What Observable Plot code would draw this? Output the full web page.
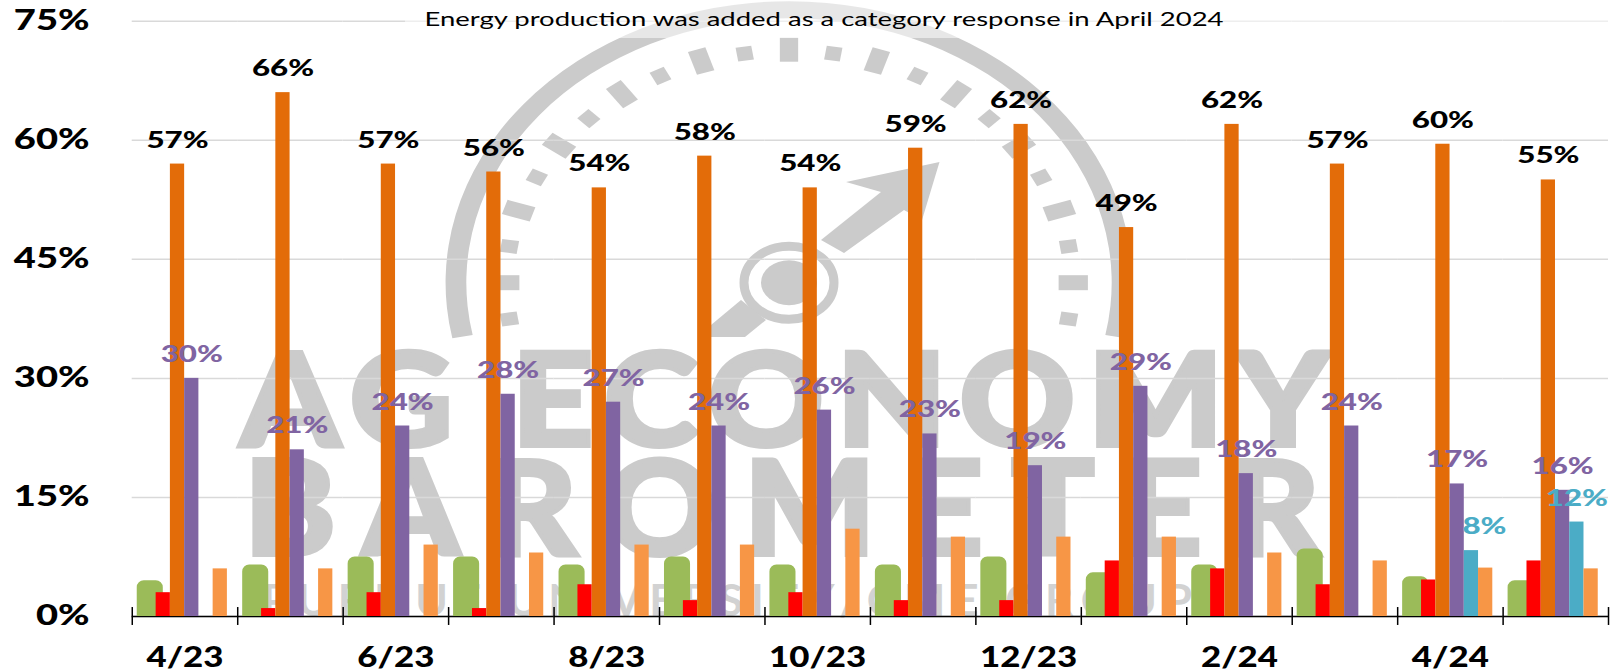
<!DOCTYPE html>
<html><head><meta charset="utf-8">
<script src="https://cdn.jsdelivr.net/npm/d3@7"></script>
<script src="https://cdn.jsdelivr.net/npm/@observablehq/plot@0.6"></script>
<style>html,body{margin:0;padding:0;background:#fff}svg{display:block}</style>
</head><body>
<script>
const months = ["4/23","5/23","6/23","7/23","8/23","9/23","10/23","11/23","12/23","1/24","2/24","3/24","4/24","5/24"];
const labeledMonths = ["4/23","6/23","8/23","10/23","12/23","2/24","4/24"];
const yTicks = [0,15,30,45,60,75];
const note = "Energy production was added as a category response in April 2024";
const greenValues  = [4.5,6.5,7.5,7.5,6.5,7.5,6.5,6.5,7.5,5.5,6.5,8.5,5,4.5];
const redValues    = [3,1,3,1,4,2,3,2,2,7,6,4,4.6,7];
const orangeValues = [57,66,57,56,54,58,54,59,62,49,62,57,59.5,55];
const purpleValues = [30,21,24,28,27,24,26,23,19,29,18,24,16.7,15.9];
const blueValues   = [null,null,null,null,null,null,null,null,null,null,null,null,8.3,11.9];
const lightValues  = [6,6,9,8,9,9,11,10,10,10,8,7,6.1,6];
const slots = ["red","orange","purple","blue","light"];

const rows = (arr) => arr.map((v,i)=>({month:months[i],value:v})).filter(d=>d.value!=null);
const pct = d => Math.round(d.value)+"%";
const FONT = "Lato, 'Open Sans', sans-serif";
const GREY = "#cbcbcb";

function watermark(){
  const g = d3.create("svg:g").attr("aria-label","watermark");
  const gauge = g.append("g").attr("transform","translate(789,282.7) scale(1.22,1)").attr("fill",GREY);
  const rad = d=>d*Math.PI/180;
  gauge.append("path").attr("d",d3.arc()({innerRadius:264.5,outerRadius:281.5,startAngle:rad(-101.4),endAngle:rad(101.4)}));
  d3.range(-11,12).forEach(k=>{
    const long = k%2===0;
    gauge.append("rect")
      .attr("x",long?-7.5:-6.5).attr("width",long?15:13)
      .attr("y",long?-245:-239).attr("height",long?24:14)
      .attr("transform",`rotate(${k*9})`);
  });
  g.append("ellipse").attr("cx",789).attr("cy",282.7).attr("rx",45).attr("ry",36.5)
    .attr("fill","none").attr("stroke",GREY).attr("stroke-width",9);
  g.append("ellipse").attr("cx",789).attr("cy",282.7).attr("rx",28).attr("ry",22.5).attr("fill",GREY);
  g.append("polygon").attr("fill",GREY)
    .attr("points","939.5,162 846,182 881,192 821,240 844,253 904,210 922,220");
  g.append("polygon").attr("fill",GREY)
    .attr("points","741,300 711,325 711,337 745,337 766,320");
  const word = (t,x,y,w,size,weight,sx,fill,sw)=>g.append("text").text(t)
    .attr("transform",`translate(${x},${y}) scale(${sx},1)`)
    .attr("text-anchor","start")
    .attr("textLength",w/sx).attr("lengthAdjust","spacing")
    .attr("font-family",FONT).attr("font-size",size).attr("font-weight",weight)
    .attr("fill",fill).attr("stroke",fill).attr("stroke-width",sw);
  word("AG ECONOMY",240,446,1090,130,900,1.1,GREY,4);
  word("BAROMETER",244,555,1076,132,900,1.05,GREY,4);
  word("PURDUE UNIVERSITY/CME GROUP",262,616,930,44,700,1.0,"#d2d2d2",0);
  return g.node();
}
function noteBox(){
  return d3.create("svg:rect").attr("x",405).attr("y",0).attr("width",1216).attr("height",38)
    .attr("fill","#fff").attr("fill-opacity",0.55).node();
}

const labelMark = (arr,slot,color,extra={})=>Plot.text(arr,{fx:"month",x:()=>slot,y:"value",text:pct,fontSize:23,fontWeight:900,fill:color,lineAnchor:"bottom",dy:-16.5,...extra});
const bar = (slot,color)=>({fx:"month",x:()=>slot,y:"value",fill:color});

const chart = Plot.plot({
  width:1621,height:670,
  marginLeft:131.7,marginRight:13,marginTop:20.7,marginBottom:54,
  style:{fontFamily:FONT,background:"#fff"},
  fx:{domain:months,padding:0,round:false,label:null},
  x:{domain:slots,paddingInner:0,paddingOuter:1.2,align:0.70,round:false,axis:null,label:null},
  y:{domain:[0,75],label:null},
  marks:[
    Plot.frame({facet:"super",render:watermark}),
    Plot.ruleY(yTicks,{stroke:"#d9d9d9",strokeWidth:1.5}),
    Plot.frame({facet:"super",render:noteBox}),
    Plot.text([note],{x:null,y:null,frameAnchor:"top",dx:-46.35,dy:-1,lineAnchor:"middle",fontSize:19.5,fill:"#000",facet:"super",text:d=>d}),
    Plot.axisFx({anchor:"bottom",ticks:labeledMonths,tickSize:0,tickPadding:30,fontSize:29,fontWeight:900,fill:"#000",label:null}),
    Plot.axisY({ticks:yTicks,tickSize:0,tickPadding:42.7,tickFormat:d=>d+"%",fontSize:28,fontWeight:900,fill:"#000",label:null}),
    Plot.ruleY([0],{stroke:"#000",strokeWidth:1.6}),
    Plot.ruleX(months,{fx:d=>d,x:()=>"red",dx:-31,y1:-1.13,y2:1.13,stroke:"#000",strokeWidth:1.5}),
    Plot.ruleX(months.slice(-1),{fx:d=>d,x:()=>"red",dx:74.4,y1:-1.13,y2:1.13,stroke:"#000",strokeWidth:1.5}),
    Plot.barY(rows(greenValues),{...bar("red","#9bbb59"),insetLeft:-18.9,insetRight:7.1,rx1y1:7,rx2y1:7}),
    Plot.barY(rows(redValues),bar("red","#ff0000")),
    Plot.barY(rows(orangeValues),bar("orange","#e36c09")),
    Plot.barY(rows(purpleValues),bar("purple","#8064a2")),
    Plot.barY(rows(blueValues),bar("blue","#4bacc6")),
    Plot.barY(rows(lightValues),bar("light","#f79646")),
    labelMark(rows(orangeValues),"orange","#000"),
    labelMark(rows(purpleValues),"purple","#8064a2"),
    labelMark(rows(blueValues).slice(0,1),"blue","#4bacc6",{dx:13}),
    labelMark(rows(blueValues).slice(1),"blue","#4bacc6")
  ]
});
document.body.appendChild(chart);
chart.querySelectorAll("text").forEach(t=>{
  if(t.hasAttribute("textLength")||!t.textContent) return;
  const L=t.getComputedTextLength();
  const s=t.textContent;
  const target = s===note ? 799 : L*(labeledMonths.includes(s)?1.2:s.endsWith("%")&&+t.getAttribute("font-size")===23?1.3:1.36);
  t.setAttribute("textLength",target);
  t.setAttribute("lengthAdjust","spacingAndGlyphs");
});
</script>
</body></html>
